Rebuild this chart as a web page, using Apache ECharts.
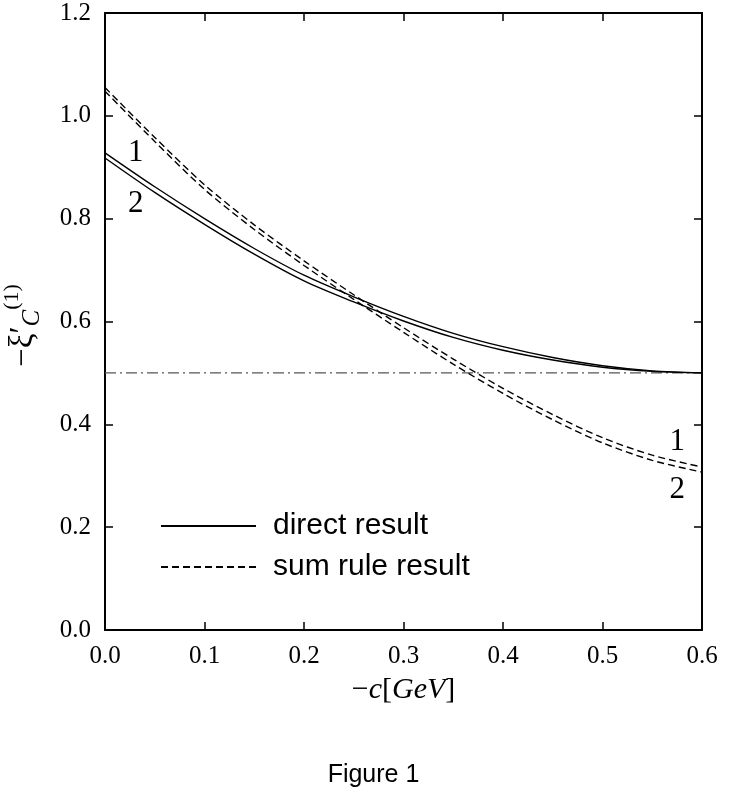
<!DOCTYPE html>
<html>
<head>
<meta charset="utf-8">
<script src="https://cdn.jsdelivr.net/npm/echarts@6/dist/echarts.min.js"></script>
<style>
html,body{margin:0;padding:0;background:#fff;}
#chart{width:747px;height:795px;}
</style>
</head>
<body>
<div id="chart"></div>
<script>
// x positions (-c in GeV)
const xs = [0, 0.05, 0.1, 0.15, 0.2, 0.25, 0.3, 0.35, 0.4, 0.45, 0.5, 0.55, 0.6];
// direct result, curves 1 and 2
const direct1 = [0.928, 0.862, 0.800, 0.742, 0.690, 0.648, 0.610, 0.577, 0.551, 0.530, 0.514, 0.504, 0.500];
const direct2 = [0.918, 0.851, 0.789, 0.731, 0.679, 0.638, 0.601, 0.569, 0.544, 0.525, 0.511, 0.503, 0.500];
// sum rule result, curves 1 and 2
const sum1 = [1.055, 0.958, 0.866, 0.788, 0.718, 0.652, 0.588, 0.527, 0.470, 0.419, 0.374, 0.340, 0.317];
const sum2 = [1.048, 0.950, 0.857, 0.779, 0.709, 0.643, 0.579, 0.517, 0.460, 0.409, 0.364, 0.330, 0.307];
// horizontal reference level
const refX = [0, 0.6];
const refY = [0.5, 0.5];
// curve number labels
const tagX = [0.031, 0.031, 0.575, 0.575];
const tagY = [0.928, 0.829, 0.366, 0.272];
const tagText = ['1', '2', '1', '2'];

const serif = 'Liberation Serif';
const sans = 'Liberation Sans';

const pair = (xa, ya) => xa.map((x, i) => [x, ya[i]]);

const chart = echarts.init(document.getElementById('chart'), null, {renderer: 'canvas'});

const axisCommon = {
  type: 'value',
  axisLine: {show: true, onZero: false, lineStyle: {color: '#000', width: 2}},
  axisTick: {show: true, inside: true, length: 8, lineStyle: {color: '#000', width: 1.5}},
  splitLine: {show: false}
};

const lineSeries = (name, data, dashed) => ({
  name: name,
  type: 'line',
  data: data,
  symbol: 'none',
  smooth: 0.3,
  lineStyle: {color: '#000', width: 1.4, type: dashed ? [7, 4] : 'solid'},
  itemStyle: {color: '#000'},
  z: 3
});

chart.setOption({
  animation: false,
  backgroundColor: '#fff',
  title: {
    text: 'Figure 1',
    left: 'center',
    top: 758,
    textStyle: {fontFamily: sans, fontSize: 25, fontWeight: 'normal', color: '#000'}
  },
  grid: {left: 105, right: 45, top: 13, bottom: 165, containLabel: false, outerBoundsMode: 'none'},
  legend: {
    data: ['direct result', 'sum rule result'],
    orient: 'vertical',
    left: 155,
    top: 506,
    itemWidth: 95,
    itemHeight: 14,
    itemGap: 11,
    selectedMode: false,
    itemStyle: {opacity: 0},
    textStyle: {fontFamily: sans, fontSize: 30, color: '#000', padding: [0, 0, 0, 12]}
  },
  xAxis: [
    Object.assign({}, axisCommon, {
      min: 0, max: 0.6, interval: 0.1, position: 'bottom',
      axisLabel: {
        margin: 14, fontFamily: serif, fontSize: 25, color: '#000',
        formatter: v => v.toFixed(1)
      },
      name: '{n|−}{i|c}{n|[}{i|GeV}{n|]}',
      nameLocation: 'middle',
      nameGap: 45,
      nameTextStyle: {
        rich: {
          n: {fontFamily: serif, fontSize: 30, color: '#000'},
          i: {fontFamily: serif, fontSize: 30, fontStyle: 'italic', color: '#000'}
        }
      }
    }),
    Object.assign({}, axisCommon, {
      min: 0, max: 0.6, interval: 0.1, position: 'top',
      axisLabel: {show: false}
    })
  ],
  yAxis: [
    Object.assign({}, axisCommon, {
      min: 0, max: 1.2, interval: 0.2, position: 'left',
      axisLabel: {
        margin: 14, fontFamily: serif, fontSize: 25, color: '#000',
        formatter: v => v.toFixed(1)
      },
      name: '{n|−ξ′}{s|C}{p|(1)}',
      nameLocation: 'middle',
      nameRotate: 90,
      nameGap: 60,
      nameTextStyle: {
        padding: [0, 8, 0, 0],
        rich: {
          n: {fontFamily: serif, fontSize: 33, color: '#000', lineHeight: 44, verticalAlign: 'middle'},
          s: {fontFamily: serif, fontSize: 25, fontStyle: 'italic', color: '#000', lineHeight: 24, verticalAlign: 'bottom'},
          p: {fontFamily: serif, fontSize: 22, color: '#000', lineHeight: 30, verticalAlign: 'top'}
        }
      }
    }),
    Object.assign({}, axisCommon, {
      min: 0, max: 1.2, interval: 0.2, position: 'right',
      axisLabel: {show: false}
    })
  ],
  series: [
    {
      name: 'reference',
      type: 'line',
      data: pair(refX, refY),
      symbol: 'none',
      lineStyle: {color: '#555', width: 1.4, type: [11, 4, 2, 4]},
      z: 2
    },
    lineSeries('direct result', pair(xs, direct1), false),
    lineSeries('direct result', pair(xs, direct2), false),
    lineSeries('sum rule result', pair(xs, sum1), true),
    lineSeries('sum rule result', pair(xs, sum2), true),
    {
      name: 'tags',
      type: 'scatter',
      data: tagX.map((x, i) => ({value: [x, tagY[i]], label: {formatter: tagText[i]}})),
      symbolSize: 0,
      itemStyle: {color: '#000', opacity: 1},
      silent: true,
      label: {
        show: true, position: 'inside', opacity: 1,
        fontFamily: serif, fontSize: 31, color: '#000'
      },
      z: 4
    }
  ]
});
</script>
</body>
</html>
